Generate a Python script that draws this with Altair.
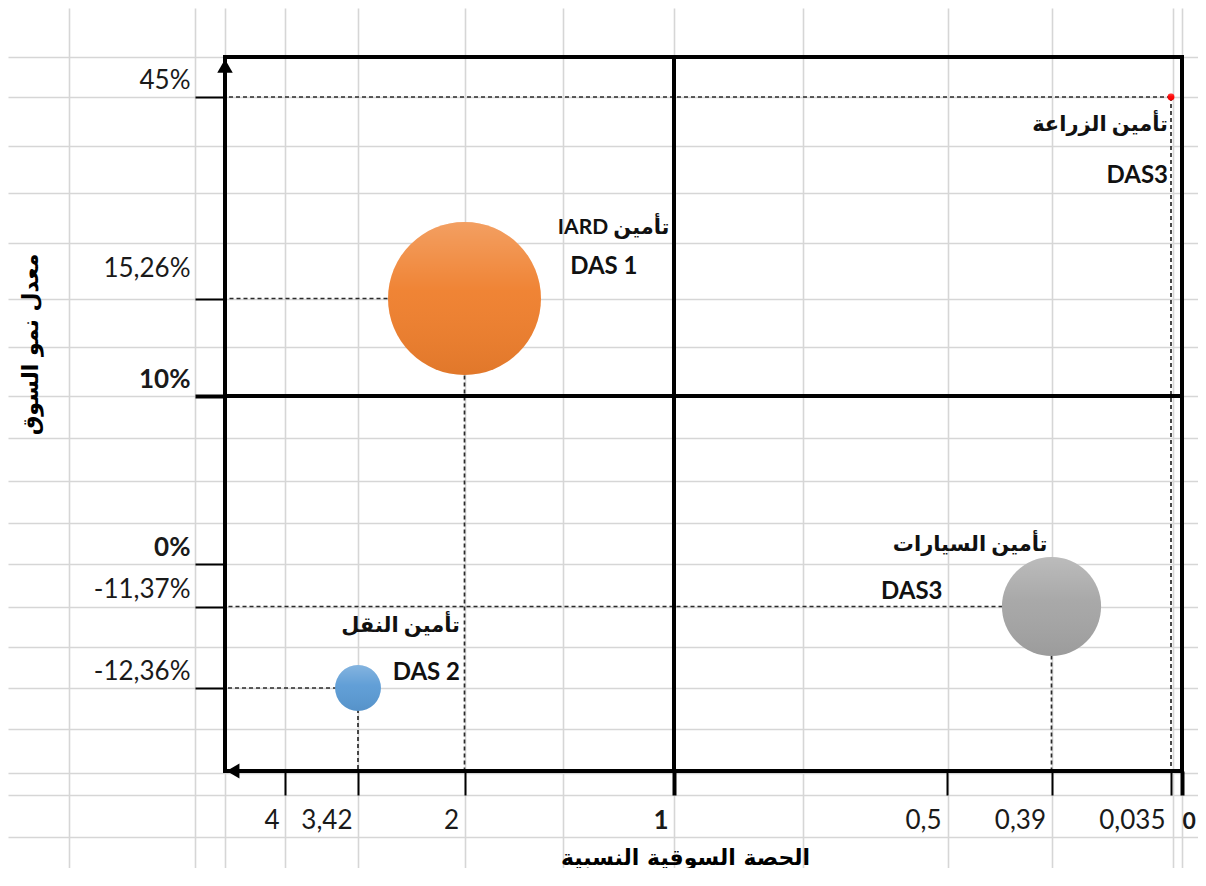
import altair as alt
import pandas as pd

# ---------------- data ----------------
segments = ["IARD", "Transport", "Auto", "Agri"]
label_ar = ["IARD تأمين", "تأمين النقل", "تأمين السيارات", "تأمين الزراعة"]
label_das = ["DAS 1", "DAS 2", "DAS3", "DAS3"]
rel_share = [2, 3.42, 0.39, 0.035]          # relative market share
growth = [15.26, -12.36, -11.37, 45]         # market growth rate (%)
weight = [100, 9, 42, 0.2]                   # bubble weight (relative)
colors = ["#EF7F2D", "#5B9BD5", "#A5A5A5", "#FF0000"]

x_ticks = [4, 3.42, 2, 1, 0.5, 0.39, 0.035, 0]
y_ticks = [45, 15.26, 10, 0, -11.37, -12.36]

X_TITLE = "الحصة السوقية النسبية"
Y_TITLE = "معدل نمو السوق"

RMS_SPLIT = 1        # BCG threshold on relative share
GROWTH_SPLIT = 10    # BCG threshold on growth
X_EDGE = 4.5         # left end of the share axis
Y_TOP = 50           # top of the growth axis
Y_BOTTOM = -15       # bottom of the growth axis

# ---------------- layout / style ----------------
W, H = 1190, 860
X_SCALE = alt.Scale(domain=[X_EDGE] + x_ticks,
                    range=[217, 277, 350, 456.5, 666, 939, 1043.5, 1163, 1174],
                    nice=False, zero=False)
Y_SCALE = alt.Scale(domain=[Y_TOP] + y_ticks + [Y_BOTTOM],
                    range=[49, 89, 290.5, 388, 556, 598.5, 680, 763],
                    nice=False, zero=False)
SHEET_COLS = [61, 187, 217, 277, 350, 457, 555, 666, 795, 940, 1044, 1165, 1174]
SHEET_ROWS = [49, 89, 138, 185, 235, 291, 339, 388, 430, 473, 515, 556, 599,
              639, 680, 721, 765, 787, 829]
GRID_COLOR = "#d6d6d6"
LAT = "Lato, DejaVu Sans"
AR = "DejaVu Sans"

df = pd.DataFrame({
    "segment": segments, "ar": label_ar, "das": label_das,
    "rms": rel_share, "growth": growth, "weight": weight,
})

frame = pd.DataFrame({
    "x1": [X_EDGE, X_EDGE, X_EDGE, 0, RMS_SPLIT, X_EDGE],
    "x2": [0, 0, X_EDGE, 0, RMS_SPLIT, 0],
    "y1": [Y_TOP, GROWTH_SPLIT, Y_TOP, Y_TOP, Y_TOP, Y_BOTTOM],
    "y2": [Y_TOP, GROWTH_SPLIT, Y_BOTTOM, Y_BOTTOM, Y_BOTTOM, Y_BOTTOM],
})

# ---------------- spreadsheet grid (background) ----------------
grid = alt.Chart(pd.DataFrame({"gx": [0], "gy": [0]})).mark_point(opacity=0).encode(
    x=alt.X("gx:Q", scale=alt.Scale(domain=[0, W], nice=False, zero=False),
            axis=alt.Axis(orient="top", values=SHEET_COLS, grid=True, gridColor=GRID_COLOR,
                          gridWidth=1.6, labels=False, ticks=False, domain=False, title=None)),
    y=alt.Y("gy:Q", scale=alt.Scale(domain=[0, H], reverse=True, nice=False, zero=False),
            axis=alt.Axis(orient="right", values=SHEET_ROWS, grid=True, gridColor=GRID_COLOR,
                          gridWidth=1.6, labels=False, ticks=False, domain=False, title=None)),
)

# ---------------- axes ----------------
x_axis = alt.Axis(
    orient="bottom", offset=-(H - 763), values=x_ticks, domain=False, grid=False,
    tickSize=24, tickColor="#000",
    tickWidth={"condition": {"test": "datum.value == 1 || datum.value == 0", "value": 4}, "value": 2},
    labelExpr="replace(toString(datum.value), '.', ',')",
    labelAlign={"condition": {"test": "datum.value == 0", "value": "left"}, "value": "right"},
    labelOffset={"condition": {"test": "datum.value == 0", "value": 0}, "value": -6},
    labelBaseline="alphabetic", labelPadding=33,
    labelFont=LAT, labelColor="#1a1a1a",
    labelFontSize={"condition": {"test": "datum.value == 0", "value": 23}, "value": 26},
    labelFontWeight={"condition": {"test": "datum.value == 1 || datum.value == 0", "value": "bold"},
                     "value": "normal"},
    labelOverlap=False, labelFlush=False,
    title=X_TITLE, titleX=677, titleY=86, titleAngle=0, titleAlign="center",
    titleBaseline="middle", titleFont=AR, titleFontSize=22, titleFontWeight="bold",
    titleColor="#000",
)
y_axis = alt.Axis(
    orient="left", offset=-217, values=y_ticks, domain=False, grid=False,
    tickSize=30, tickColor="#000",
    tickWidth={"condition": {"test": "datum.value == 10", "value": 4}, "value": 2},
    labelExpr="replace(toString(datum.value), '.', ',') + '%'",
    labelAlign="right", labelBaseline="alphabetic", labelPadding=5,
    labelOffset={"condition": {"test": "datum.value == 15.26", "value": -22}, "value": -9},
    labelFontWeight={"condition": {"test": "datum.value == 10 || datum.value == 0", "value": "bold"},
                     "value": "normal"},
    labelFont=LAT, labelFontSize=26, labelColor="#1a1a1a",
    labelOverlap=False, labelFlush=False,
    title=Y_TITLE, titleX=-195, titleY=336, titleAngle=270, titleAlign="center",
    titleBaseline="middle", titleFont=AR, titleFontSize=22, titleFontWeight="bold",
    titleColor="#000",
)

# ---------------- main layers ----------------
base = alt.Chart(df)

def xy(axis_x=None, axis_y=None, xf="rms:Q", yf="growth:Q"):
    return dict(x=alt.X(xf, scale=X_SCALE, axis=axis_x),
                y=alt.Y(yf, scale=Y_SCALE, axis=axis_y))

h_dash = base.mark_rule(strokeDash=[4, 3], strokeWidth=1.7, color="#2b2b2b").encode(
    x2=alt.datum(X_EDGE), **xy())
v_dash = base.mark_rule(strokeDash=[4, 3], strokeWidth=1.7, color="#2b2b2b").encode(
    y2=alt.datum(Y_BOTTOM), **xy())

frame_rules = alt.Chart(frame).mark_rule(strokeWidth=4, color="#000", strokeCap="square").encode(
    x2="x2:Q", y2="y2:Q", **xy(xf="x1:Q", yf="y1:Q"))

corner = pd.DataFrame({"x": [X_EDGE], "top": [Y_TOP], "bottom": [Y_BOTTOM]})
arrow_up = alt.Chart(corner).mark_point(
    shape="triangle-up", size=240, filled=True, color="#000", opacity=1, yOffset=9).encode(
    **xy(xf="x:Q", yf="top:Q"))
arrow_left = alt.Chart(corner).mark_point(
    shape="triangle-left", size=220, filled=True, color="#000", opacity=1, xOffset=8).encode(
    **xy(xf="x:Q", yf="bottom:Q"))

size_enc = alt.Size("weight:Q", scale=alt.Scale(domain=[0, 100], range=[0, 23400]), legend=None)

bubbles = base.mark_circle(opacity=1).encode(
    size=size_enc,
    color=alt.Color("segment:N", scale=alt.Scale(domain=segments, range=colors), legend=None),
    **xy(axis_x=x_axis, axis_y=y_axis))
gloss = {"gradient": "linear", "x1": 0, "y1": 0, "x2": 0, "y2": 1,
         "stops": [{"offset": 0, "color": "rgba(255,255,255,0.25)"},
                   {"offset": 0.45, "color": "rgba(255,255,255,0.04)"},
                   {"offset": 1, "color": "rgba(0,0,0,0.06)"}]}
bubble_gloss = base.mark_circle(opacity=1, fill=gloss).encode(size=size_enc, **xy())

# label placement relative to each bubble (pixels): (dx, dy) for arabic line, DAS line
LABEL_POS = {
    "IARD": [(205, -65), (173, -25)],
    "Transport": [(102, -56), (102, -8)],
    "Auto": [(-4, -56), (-109, -8)],
    "Agri": [(-3, 34), (-3, 86)],
}
label_layers = []
for seg, ((dx1, dy1), (dx2, dy2)) in LABEL_POS.items():
    sub = base.transform_filter(alt.datum.segment == seg)
    label_layers.append(sub.mark_text(
        align="right", baseline="alphabetic", dx=dx1, dy=dy1, font=LAT,
        fontSize=21, fontWeight="bold", color="#111").encode(text="ar:N", **xy()))
    label_layers.append(sub.mark_text(
        align="right", baseline="alphabetic", dx=dx2, dy=dy2, font=LAT,
        fontSize=24, fontWeight="bold", color="#111").encode(text="das:N", **xy()))

chart = alt.layer(
    grid, h_dash, v_dash, frame_rules, arrow_up, arrow_left, bubbles, bubble_gloss,
    *label_layers,
).resolve_scale(x="independent", y="independent").resolve_axis(
    x="independent", y="independent").properties(
    width=W, height=H, padding=0, autosize=alt.AutoSizeParams(type="none"),
    background="white",
).configure_view(strokeWidth=0)

chart.save("out.html", embed_options={"renderer": "svg", "actions": False})
